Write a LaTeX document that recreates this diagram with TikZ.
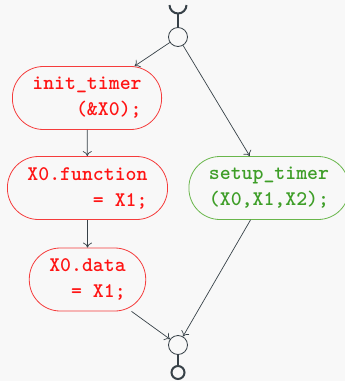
\documentclass[tikz,border=0pt]{standalone}
\usetikzlibrary{arrows.meta}
\definecolor{bgc}{RGB}{248,248,248}
\definecolor{edgec}{RGB}{55,65,72}
\definecolor{redtext}{RGB}{255,20,20}
\definecolor{redborder}{RGB}{245,60,60}
\definecolor{greentext}{RGB}{62,158,40}
\definecolor{greenborder}{RGB}{105,182,75}
\tikzset{
  stmt/.style={rectangle, rounded corners=31pt, minimum height=63pt, inner xsep=20pt,
    align=right, line width=0.8pt,
    font=\fontsize{20.8}{26}\selectfont\ttfamily\bfseries},
  redstmt/.style={stmt, draw=redborder, text=redtext},
  greenstmt/.style={stmt, draw=greenborder, text=greentext},
  junc/.style={circle, draw=edgec, line width=0.8pt, minimum size=19pt, inner sep=0pt},
  term/.style={circle, draw=edgec, line width=2pt, minimum size=13pt, inner sep=0pt},
  flow/.style={draw=edgec, line width=0.7pt, -{To[length=5pt,width=9pt]}},
}
\begin{document}
\begin{tikzpicture}[x=1pt,y=1pt]
\fill[bgc] (0,0) rectangle (345,-381);
\useasboundingbox (0,0) rectangle (345,-381);
\node[junc] (top) at (178,-37) {};
\coordinate (cup) at (178,-13.5);
\draw[edgec, line width=2pt] (169.5,-5) arc[start angle=180, end angle=360, radius=8.5];
\draw[edgec, line width=2pt] (cup) -- (top.north);
\node[redstmt] (init) at (87,-98) {init\_timer\\(\&X0);};
\node[redstmt] (func) at (87.5,-188) {X0.function\\= X1;};
\node[redstmt] (data) at (87.5,-279.5) {X0.data\\= X1;};
\node[greenstmt] (setup) at (269,-188) {setup\_timer\\(X0,X1,X2);};
\node[junc] (bot) at (178,-345) {};
\node[term] (end) at (178,-372.5) {};
\draw[edgec, line width=2pt] (bot.south) -- (end.north);
\draw[flow] (top) -- (init);
\draw[flow] (top) -- (setup);
\draw[flow] (init) -- (func);
\draw[flow] (func) -- (data);
\draw[flow] (data) -- (bot);
\draw[flow] (setup) -- (bot);
\end{tikzpicture}
\end{document}
